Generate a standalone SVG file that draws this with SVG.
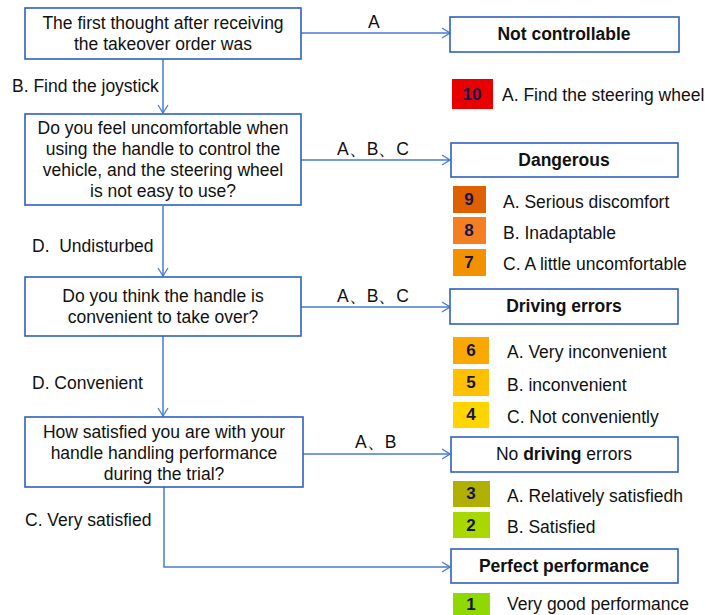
<svg xmlns="http://www.w3.org/2000/svg" width="706" height="615" viewBox="0 0 706 615">
<defs>
<marker id="arr" markerWidth="10" markerHeight="12" refX="9" refY="6" orient="auto" markerUnits="userSpaceOnUse">
<path d="M1,1 L9,6 L1,11" fill="none" stroke="#4a7bd0" stroke-width="1.3"/>
</marker>
<style>
.box{fill:#fff;stroke:#2f5fbf;stroke-width:1.6}
.t{font-family:"Liberation Sans",Arial,sans-serif;font-size:17.5px;fill:#111}
.c{text-anchor:middle}
.b{font-weight:bold}
.n{font-family:"Liberation Sans",Arial,sans-serif;font-size:17px;font-weight:bold;fill:#141450;text-anchor:middle}
.ln{fill:none;stroke:#4a7bd0;stroke-width:1.5}
</style>
</defs>
<rect width="706" height="615" fill="#fff"/>

<g id="connectors">
<line class="ln" x1="163" y1="59" x2="163" y2="113" marker-end="url(#arr)"/>
<line class="ln" x1="163" y1="206" x2="163" y2="276" marker-end="url(#arr)"/>
<line class="ln" x1="163" y1="336" x2="163" y2="416" marker-end="url(#arr)"/>
<polyline class="ln" points="164,487 164,567 450,567" marker-end="url(#arr)"/>
<line class="ln" x1="301" y1="33" x2="450" y2="33" marker-end="url(#arr)"/>
<line class="ln" x1="301" y1="160" x2="450" y2="160" marker-end="url(#arr)"/>
<line class="ln" x1="301" y1="307" x2="450" y2="307" marker-end="url(#arr)"/>
<line class="ln" x1="303" y1="454" x2="450" y2="454" marker-end="url(#arr)"/>
<text class="t" x="368" y="28">A</text>
<text class="t" x="12" y="92">B. Find the joystick</text>
<text class="t" x="337" y="155">A、B、C</text>
<text class="t" x="32" y="252">D.&#160; Undisturbed</text>
<text class="t" x="337" y="302">A、B、C</text>
<text class="t" x="32" y="389">D. Convenient</text>
<text class="t" x="355" y="448">A、B</text>
<text class="t" x="25" y="526">C. Very satisfied</text>
</g>

<g id="q1">
<rect class="box" x="25" y="8" width="276" height="51"/>
<text class="t c" x="163" y="29">The first thought after receiving</text>
<text class="t c" x="163" y="50">the takeover order was</text>
</g>

<g id="q2">
<rect class="box" x="25" y="114" width="276" height="91"/>
<text class="t c" x="163" y="134">Do you feel uncomfortable when</text>
<text class="t c" x="163" y="155">using the handle to control the</text>
<text class="t c" x="163" y="176">vehicle, and the steering wheel</text>
<text class="t c" x="163" y="197">is not easy to use?</text>
</g>

<g id="q3">
<rect class="box" x="25" y="277" width="276" height="59"/>
<text class="t c" x="163" y="302">Do you think the handle is</text>
<text class="t c" x="163" y="323">convenient to take over?</text>
</g>

<g id="q4">
<rect class="box" x="25" y="417" width="278" height="70"/>
<text class="t c" x="164" y="438">How satisfied you are with your</text>
<text class="t c" x="164" y="459">handle handling performance</text>
<text class="t c" x="164" y="480">during the trial?</text>
</g>

<g id="r1">
<rect class="box" x="450" y="17" width="229" height="35"/>
<text class="t c b" x="564" y="40">Not controllable</text>
<rect x="452" y="79" width="41" height="30" fill="#e80000"/>
<text class="n" x="472" y="100">10</text>
<text class="t" x="502" y="101">A. Find the steering wheel</text>
</g>

<g id="r2">
<rect class="box" x="451" y="143" width="227" height="34"/>
<text class="t c b" x="564" y="166">Dangerous</text>
<rect x="453" y="186" width="33" height="27" fill="#e06000"/>
<text class="n" x="469" y="205">9</text>
<text class="t" x="503" y="208">A. Serious discomfort</text>
<rect x="453" y="217" width="33" height="27" fill="#f47f20"/>
<text class="n" x="469" y="236">8</text>
<text class="t" x="503" y="239">B. Inadaptable</text>
<rect x="453" y="249" width="33" height="27" fill="#f39200"/>
<text class="n" x="469" y="268">7</text>
<text class="t" x="503" y="270">C. A little uncomfortable</text>
</g>

<g id="r3">
<rect class="box" x="450" y="289" width="228" height="35"/>
<text class="t c b" x="564" y="312">Driving errors</text>
<rect x="453" y="337" width="36" height="27" fill="#faa800"/>
<text class="n" x="471" y="356">6</text>
<text class="t" x="507" y="358">A. Very inconvenient</text>
<rect x="453" y="369" width="36" height="27" fill="#ffc000"/>
<text class="n" x="471" y="388">5</text>
<text class="t" x="507" y="391">B. inconvenient</text>
<rect x="453" y="402" width="36" height="26" fill="#ffd500"/>
<text class="n" x="471" y="420">4</text>
<text class="t" x="507" y="423">C. Not conveniently</text>
</g>

<g id="r4">
<rect class="box" x="451" y="437" width="227" height="35"/>
<text class="t c" x="564" y="460">No <tspan class="b">driving</tspan> errors</text>
<rect x="453" y="481" width="37" height="26" fill="#b0b000"/>
<text class="n" x="471" y="499">3</text>
<text class="t" x="507" y="502">A. Relatively satisfiedh</text>
<rect x="453" y="512" width="37" height="26" fill="#a8d800"/>
<text class="n" x="471" y="531">2</text>
<text class="t" x="507" y="533">B. Satisfied</text>
</g>

<g id="r5">
<rect class="box" x="451" y="549" width="227" height="34"/>
<text class="t c b" x="564" y="572">Perfect performance</text>
<rect x="453" y="593" width="37" height="22" fill="#8fd800"/>
<text class="n" x="471" y="610">1</text>
<text class="t" x="507" y="610">Very good performance</text>
</g>
</svg>
